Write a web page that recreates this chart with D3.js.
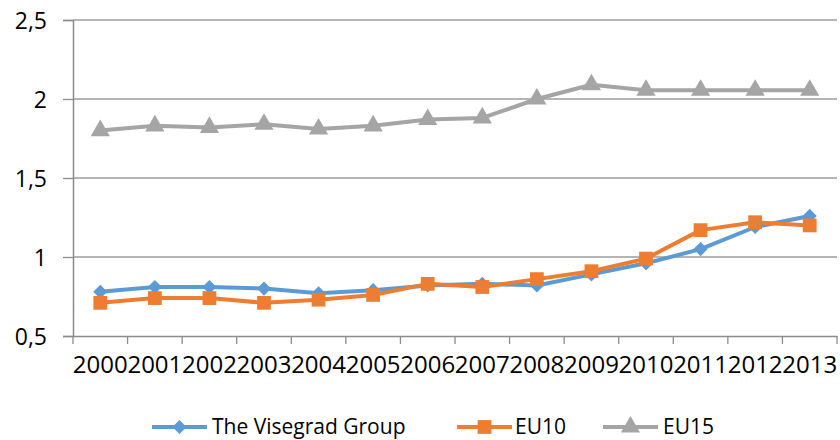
<!DOCTYPE html>
<html lang="en">
  <head>
    <script src="https://cdn.jsdelivr.net/npm/d3@7"></script>
    <style>
      body {
        margin: 0;
        background: #fff;
      }
      svg text {
        font-family: 'Open Sans', sans-serif;
        fill: #000;
      }
    </style>
  </head>
  <body>
    <svg></svg>
  </body>
  <script>

    // Data
    const years = ['2000', '2001', '2002', '2003', '2004', '2005', '2006',
                   '2007', '2008', '2009', '2010', '2011', '2012', '2013'];
    const visegrad = [0.78, 0.81, 0.81, 0.80, 0.77, 0.79, 0.82, 0.83, 0.82, 0.89, 0.96, 1.05, 1.19, 1.26];
    const eu10 = [0.71, 0.74, 0.74, 0.71, 0.73, 0.76, 0.83, 0.81, 0.86, 0.91, 0.99, 1.17, 1.22, 1.20];
    const eu15 = [1.80, 1.83, 1.82, 1.84, 1.81, 1.83, 1.87, 1.88, 2.00, 2.09, 2.055, 2.055, 2.055, 2.055];
    const yTicks = [0.5, 1, 1.5, 2, 2.5];
    const seriesNames = ['The Visegrad Group', 'EU10', 'EU15'];

    const width = 840;
    const height = 440;
    const plot = { left: 73, right: 837, top: 20, bottom: 336 };

    const svg = d3.select('svg')
        .attr('width', width)
        .attr('height', height);

    const x = d3.scaleBand()
        .domain(years)
        .range([plot.left, plot.right]);

    const y = d3.scaleLinear()
        .domain([0.5, 2.5])
        .range([plot.bottom, plot.top]);

    const cx = d => x(d) + x.bandwidth() / 2;
    const fmt = v => String(v).replace('.', ',');

    // gridlines
    svg.append('g')
      .selectAll('line')
      .data(yTicks.slice(1))
      .enter().append('line')
        .attr('x1', plot.left)
        .attr('x2', plot.right)
        .attr('y1', d => y(d))
        .attr('y2', d => y(d))
        .attr('stroke', '#9d9d9d')
        .attr('stroke-width', 1.3);

    // y axis
    const yAxis = svg.append('g')
        .attr('transform', 'translate(' + plot.left + ',0)')
        .call(d3.axisLeft(y).tickValues(yTicks).tickSize(10).tickPadding(16).tickFormat(fmt));
    yAxis.select('.domain').attr('stroke', '#8c8c8c').attr('stroke-width', 1.5);
    yAxis.selectAll('.tick line').attr('stroke', '#8c8c8c').attr('stroke-width', 1.3);
    yAxis.selectAll('.tick text')
        .style('font-size', '23px')
        .attr('dy', '0.35em');

    // x axis
    const xAxis = svg.append('g')
        .attr('transform', 'translate(0,' + plot.bottom + ')')
        .call(d3.axisBottom(x).tickSize(0).tickPadding(20));
    xAxis.select('.domain').attr('stroke', '#8c8c8c').attr('stroke-width', 1.5);
    xAxis.selectAll('.tick text').style('font-size', '24px');

    // x tick marks between categories
    svg.append('g')
      .selectAll('line')
      .data(years.concat(['end']))
      .enter().append('line')
        .attr('x1', (d, i) => i < years.length ? x(d) : plot.right)
        .attr('x2', (d, i) => i < years.length ? x(d) : plot.right)
        .attr('y1', plot.bottom)
        .attr('y2', plot.bottom + 8)
        .attr('stroke', '#8c8c8c')
        .attr('stroke-width', 1.3);

    // diamond = square turned 45 degrees
    const series = [
      { name: seriesNames[0], values: visegrad, color: '#5b9bd5', symbol: d3.symbolSquare, size: 100, rot: 45 },
      { name: seriesNames[1], values: eu10, color: '#ed7d31', symbol: d3.symbolSquare, size: 190, rot: 0 },
      { name: seriesNames[2], values: eu15, color: '#a5a5a5', symbol: d3.symbolTriangle, size: 160, rot: 0 }
    ];

    const line = d3.line()
        .x((d, i) => cx(years[i]))
        .y(d => y(d));

    // draw series (EU15 first, then Visegrad, EU10 on top)
    [series[2], series[0], series[1]].forEach(s => {
      const g = svg.append('g');
      g.append('path')
          .datum(s.values)
          .attr('d', line)
          .attr('fill', 'none')
          .attr('stroke', s.color)
          .attr('stroke-width', 4)
          .attr('stroke-linejoin', 'round');
      g.selectAll('path.marker')
          .data(s.values)
        .enter().append('path')
          .attr('class', 'marker')
          .attr('transform', (d, i) => 'translate(' + cx(years[i]) + ',' + y(d) + ') rotate(' + s.rot + ')')
          .attr('d', d3.symbol().type(s.symbol).size(s.size))
          .attr('fill', s.color);
    });

    // legend
    const legendPos = [{ x: 152, t: 212 }, { x: 457, t: 515 }, { x: 603, t: 663 }];
    const legend = svg.append('g').attr('transform', 'translate(0,427)');
    series.forEach((s, i) => {
      const lx = legendPos[i].x;
      legend.append('line')
          .attr('x1', lx)
          .attr('x2', lx + 55)
          .attr('stroke', s.color)
          .attr('stroke-width', 4);
      legend.append('path')
          .attr('transform', 'translate(' + (lx + 27.5) + ',0) rotate(' + s.rot + ')')
          .attr('d', d3.symbol().type(s.symbol).size(s.size))
          .attr('fill', s.color);
      legend.append('text')
          .attr('x', legendPos[i].t)
          .attr('dy', '0.35em')
          .style('font-size', '21px')
          .text(s.name);
    });
  </script>
</html>
